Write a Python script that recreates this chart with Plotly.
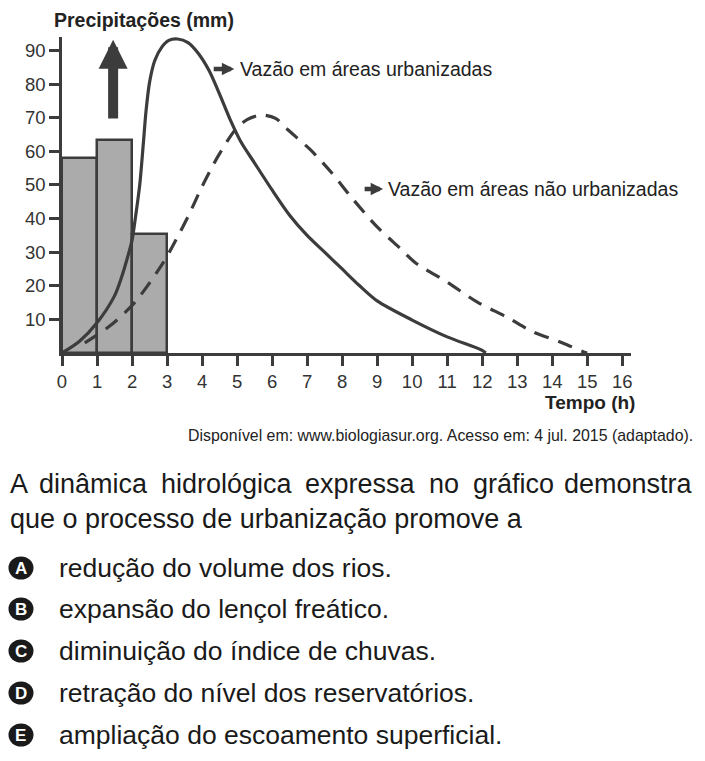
import plotly.graph_objects as go

# chuva por hora (mm)
bar_x = [0.5, 1.5, 2.5]
bar_y = [58, 63.5, 35.5]

# vazão em áreas urbanizadas
urb_x = [0, 0.5, 1, 1.5, 1.7, 1.9, 2.0, 2.1, 2.22, 2.32, 2.4, 2.5, 2.65, 2.85, 3.05, 3.3, 3.6,
         3.9, 4.2, 4.5, 4.8, 5.1, 5.5, 6.0, 6.5, 7.0, 7.5, 8.0, 8.5, 9.0, 10.0, 11.0, 12.0, 12.1]
urb_y = [0, 3.5, 9, 17, 22.5, 29.5, 33.5, 40.5, 50, 62, 72, 80.5, 87, 91, 93, 93.4, 92.3,
         89, 84, 77, 69.5, 63, 56.5, 48.5, 41, 35, 30, 25, 20, 15.5, 9.8, 4.8, 0.8, 0]

# vazão em áreas não urbanizadas
nurb_x = [0.65, 1.4, 2.1, 2.85, 3.15, 3.6, 4.0, 4.45, 4.95, 5.3, 5.7, 6.1, 6.45, 7.1, 7.7,
          8.25, 9.0, 9.65, 10.1, 11.0, 11.85, 12.7, 13.45, 14.3, 14.9, 15.0]
nurb_y = [3, 8.3, 15.3, 26.2, 31.6, 40.6, 49.5, 58.4, 66.4, 69.5, 70.8, 69.8, 66.4, 60.4, 53.6,
          46.5, 37.5, 31.2, 26.8, 21.1, 15.2, 10.7, 6.3, 3.0, 0.3, 0]

x_ticks = list(range(0, 17))
y_ticks = list(range(10, 100, 10))

options = ["A", "B", "C", "D", "E"]
option_texts = ["redução do volume dos rios.",
                "expansão do lençol freático.",
                "diminuição do índice de chuvas.",
                "retração do nível dos reservatórios.",
                "ampliação do escoamento superficial."]
option_py = [568, 609, 651, 693, 735]

DARK = "#3c3c3c"
SANS = "Liberation Sans, Arial, sans-serif"

OFF = 8  # page margin of the browser
W, H = 705 - OFF, 761 - OFF
L, T, B = 62 - OFF, 37 - OFF, 353 - OFF
XMAX, YMAX = 16.25, 94
PW = XMAX * 35
PH = B - T


def px(xp):
    return (xp - OFF - L) / PW


def py(yp):
    return (B - (yp - OFF)) / PH


def label(x, y, text, size, xanchor="left", color="#222", family=SANS):
    return dict(x=px(x), y=py(y), xref="paper", yref="paper", xanchor=xanchor, yanchor="middle",
                showarrow=False, text=text, font=dict(family=family, size=size, color=color))


fig = go.Figure()
fig.add_trace(go.Bar(x=bar_x, y=bar_y, width=1, marker=dict(color="#ababab", line=dict(color=DARK, width=2.5)),
                     showlegend=False, hoverinfo="skip"))
fig.add_trace(go.Scatter(x=nurb_x, y=nurb_y, mode="lines", line=dict(color=DARK, width=3.2, dash="15px,10px",
                         shape="spline", smoothing=0.8), showlegend=False))
fig.add_trace(go.Scatter(x=urb_x, y=urb_y, mode="lines", line=dict(color=DARK, width=3.2,
                         shape="spline", smoothing=0.8), showlegend=False))

ann = []
# big arrow
ann.append(dict(x=1.46, y=93.2, ax=1.46, ay=69.3, xref="x", yref="y", axref="x", ayref="y",
                showarrow=True, arrowhead=2, arrowwidth=10, arrowsize=0.58, arrowcolor=DARK, text=""))
# label arrows
ann.append(dict(x=4.92, y=84.5, ax=4.29, ay=84.5, xref="x", yref="y", axref="x", ayref="y",
                showarrow=True, arrowhead=2, arrowwidth=4.5, arrowsize=0.55, arrowcolor=DARK, text=""))
ann.append(label(238, 69, "Vazão em áreas urbanizadas", 19.5))
ann.append(dict(x=9.17, y=48.8, ax=8.6, ay=48.8, xref="x", yref="y", axref="x", ayref="y",
                showarrow=True, arrowhead=2, arrowwidth=4.5, arrowsize=0.55, arrowcolor=DARK, text=""))
ann.append(label(386, 189, "Vazão em áreas não urbanizadas", 19.5))

# axis titles
ann.append(label(52, 20, "<b>Precipitações (mm)</b>", 19.5))
ann.append(label(637, 402, "<b>Tempo (h)</b>", 19, xanchor="right"))
ann.append(label(695, 435, "Disponível em: www.biologiasur.org. Acesso em: 4 jul. 2015 (adaptado).",
                 15.9, xanchor="right"))

# question (first line justified)
line1 = ["A", "dinâmica", "hidrológica", "expressa", "no", "gráfico", "demonstra"]
line1_cx = [8, 93.7, 226.8, 360.6, 444, 513.2, 695]
for i, (w, cx) in enumerate(zip(line1, line1_cx)):
    anchor = "left" if i == 0 else ("right" if i == len(line1) - 1 else "center")
    ann.append(label(cx, 484, w, 27, xanchor=anchor, color="#1a1a1a"))
ann.append(label(8, 519, "que o processo de urbanização promove a", 27, color="#1a1a1a"))

shapes = []
for letter, txt, yy in zip(options, option_texts, option_py):
    shapes.append(dict(type="circle", xref="paper", yref="paper",
                       x0=px(21 - 12.5), x1=px(21 + 12.5), y0=py(yy + 11.5), y1=py(yy - 11.5),
                       fillcolor="#1a1a1a", line=dict(width=0)))
    ann.append(label(21, yy + 0.5, "<b>" + letter + "</b>", 17, xanchor="center", color="white"))
    ann.append(label(57, yy, txt, 26.5, color="#1a1a1a"))

fig.update_layout(
    width=W, height=H,
    margin=dict(l=L, r=W - L - PW, t=T, b=H - B),
    paper_bgcolor="white", plot_bgcolor="white",
    bargap=0,
    annotations=ann, shapes=shapes,
    xaxis=dict(range=[0, XMAX], tickvals=x_ticks, showgrid=False, zeroline=False,
               showline=True, linecolor=DARK, linewidth=2.5,
               ticks="outside", ticklen=10, tickwidth=2.5, tickcolor=DARK,
               tickfont=dict(family=SANS, size=18.5, color="#333")),
    yaxis=dict(range=[0, YMAX], tickvals=y_ticks, showgrid=False, zeroline=False,
               showline=True, linecolor=DARK, linewidth=2.5,
               ticks="outside", ticklen=10, tickwidth=2.5, tickcolor=DARK,
               tickfont=dict(family=SANS, size=18.5, color="#333")),
)

fig.write_html("out.html")
